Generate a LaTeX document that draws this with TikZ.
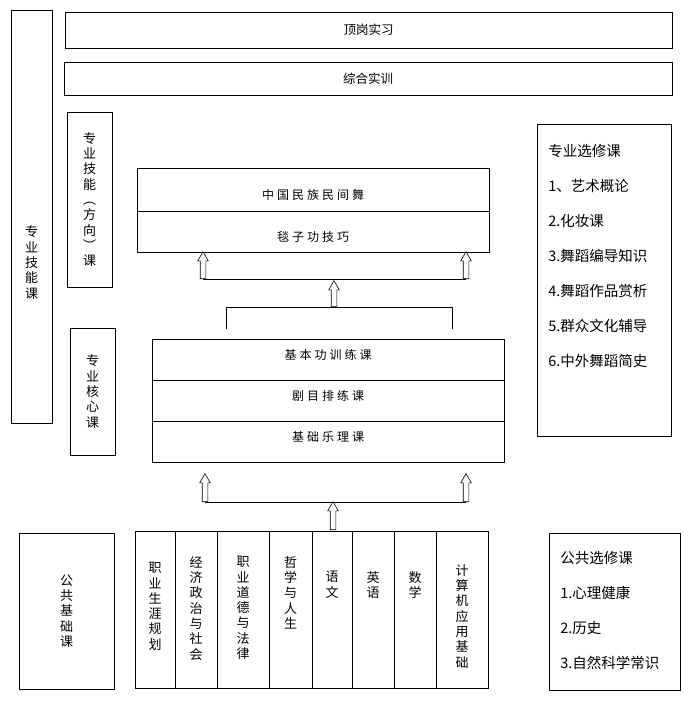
\documentclass[tikz,border=0pt]{standalone}
\usepackage{fontspec}
\setmainfont{Noto Sans CJK SC}
\newfontfamily\spaced[LetterSpace=25]{Noto Sans CJK SC}
\usetikzlibrary{positioning, shapes.arrows}

\begin{document}
\begin{tikzpicture}[x=1pt, y=-1pt, line width=0.8pt,
    box/.style={draw, rectangle, inner sep=0pt, outer sep=0pt, font=\fontsize{12.5}{14}\selectfont},
    vbox/.style={box, align=center, font=\fontsize{13}{15.3}\selectfont},
    vtext/.style={align=center, inner sep=0pt, font=\fontsize{13}{15.3}\selectfont},
    list/.style={align=left, inner sep=0pt, font=\fontsize{14.5}{35}\selectfont},
    course/.style={box, minimum width=352pt, font=\spaced\fontsize{12}{14}\selectfont},
    upcourse/.style={course, text height=19pt, text depth=0pt},
    lowcourse/.style={course, text height=4pt, text depth=5pt},
    cell/.style={draw, rectangle, inner sep=0pt, outer sep=0pt, minimum height=157pt},
    hollow/.style={single arrow, draw, rotate=90, anchor=tail, inner sep=2.5pt,
      single arrow head extend=2.5pt, single arrow tip angle=60, line width=0.6pt}]
  \useasboundingbox (0,0) rectangle (694,701);

  % top rows
  \node[box, minimum width=607pt, minimum height=36pt] (dinggang) at (368.5,30) {顶岗实习};
  \node[box, minimum width=608pt, minimum height=33pt] (zonghe) at (368,78.5) {综合实训};

  % left side labels
  \node[box, minimum width=41pt, minimum height=413pt] (jineng) at (31.5,216.5) {};
  \node[vtext] (jinengtext) at ([yshift=-46pt]jineng.center) {专\\业\\技\\能\\课};
  \node[vbox, minimum width=45pt, minimum height=175pt] (fangxiang) at (89.5,199.5)
    {专\\业\\技\\能\\︵\\方\\向\\︶\\课};
  \node[vbox, minimum width=45pt, minimum height=127pt] (hexin) at (92.5,391.5)
    {专\\业\\核\\心\\课};

  % direction courses
  \node[upcourse, minimum height=43pt] (minzu) at (313,189.5) {中国民族民间舞};
  \node[upcourse, minimum height=41pt, below=0pt of minzu] (tanzi) {毯子功技巧};

  % core courses
  \node[lowcourse, minimum height=41pt] (jibengong) at (328,359.5) {基本功训练课};
  \node[lowcourse, minimum height=41pt, below=0pt of jibengong] (jumu) {剧目排练课};
  \node[lowcourse, minimum height=41pt, below=0pt of jumu] (yueli) {基础乐理课};

  % arrows core -> direction
  \coordinate (upl) at (203,279);
  \coordinate (upr) at (466,279);
  \coordinate (brl) at (226,307);
  \coordinate (brr) at (452,307);
  \coordinate (brc) at (334,307);
  \draw (upl) -- (upr);
  \draw (brl) ++(0,22) -- (brl) -- (brr) -- ++(0,22);
  \node[hollow, minimum height=27pt] (a1) at (upl) {};
  \node[hollow, minimum height=27pt] (a2) at (upr) {};
  \node[hollow, minimum height=26pt] (a3) at (brc) {};

  % arrows public -> core
  \coordinate (lol) at (205,502);
  \coordinate (lor) at (466,502);
  \coordinate (loc) at (333,530);
  \draw (lol) -- (lor);
  \node[hollow, minimum height=28pt] (b1) at (lol) {};
  \node[hollow, minimum height=28pt] (b2) at (lor) {};
  \node[hollow, minimum height=28pt] (b3) at (loc) {};

  % public basic courses
  \node[vbox, minimum width=95pt, minimum height=156pt] (gonggong) at (66.5,611)
    {公\\共\\基\\础\\课};
  \node[cell, minimum width=40pt] (c1) at (155,609.5) {};
  \node[cell, minimum width=42pt, right=0pt of c1] (c2) {};
  \node[cell, minimum width=52pt, right=0pt of c2] (c3) {};
  \node[cell, minimum width=43pt, right=0pt of c3] (c4) {};
  \node[cell, minimum width=40pt, right=0pt of c4] (c5) {};
  \node[cell, minimum width=42pt, right=0pt of c5] (c6) {};
  \node[cell, minimum width=42pt, right=0pt of c6] (c7) {};
  \node[cell, minimum width=52pt, right=0pt of c7] (c8) {};
  \node[vtext, below=31pt of c1.north] (t1) {职\\业\\生\\涯\\规\\划};
  \node[vtext, below=25pt of c2.north] (t2) {经\\济\\政\\治\\与\\社\\会};
  \node[vtext, below=25pt of c3.north] (t3) {职\\业\\道\\德\\与\\法\\律};
  \node[vtext, below=25pt of c4.north] (t4) {哲\\学\\与\\人\\生};
  \node[vtext, below=40pt of c5.north] (t5) {语\\文};
  \node[vtext, below=40pt of c6.north] (t6) {英\\语};
  \node[vtext, below=40pt of c7.north] (t7) {数\\学};
  \node[vtext, below=33pt of c8.north] (t8) {计\\算\\机\\应\\用\\基\\础};

  % electives
  \node[box, minimum width=134pt, minimum height=312pt] (zyxx) at (604,280) {};
  \node[list, below right=20pt and 11pt of zyxx.north west] (zyxxlist)
    {专业选修课\\1、艺术概论\\2.化妆课\\3.舞蹈编导知识\\4.舞蹈作品赏析\\5.群众文化辅导\\6.中外舞蹈简史};
  \node[box, minimum width=131pt, minimum height=157pt] (ggxx) at (614.5,611.5) {};
  \node[list, below right=18pt and 11pt of ggxx.north west] (ggxxlist)
    {公共选修课\\1.心理健康\\2.历史\\3.自然科学常识};
\end{tikzpicture}
\end{document}
